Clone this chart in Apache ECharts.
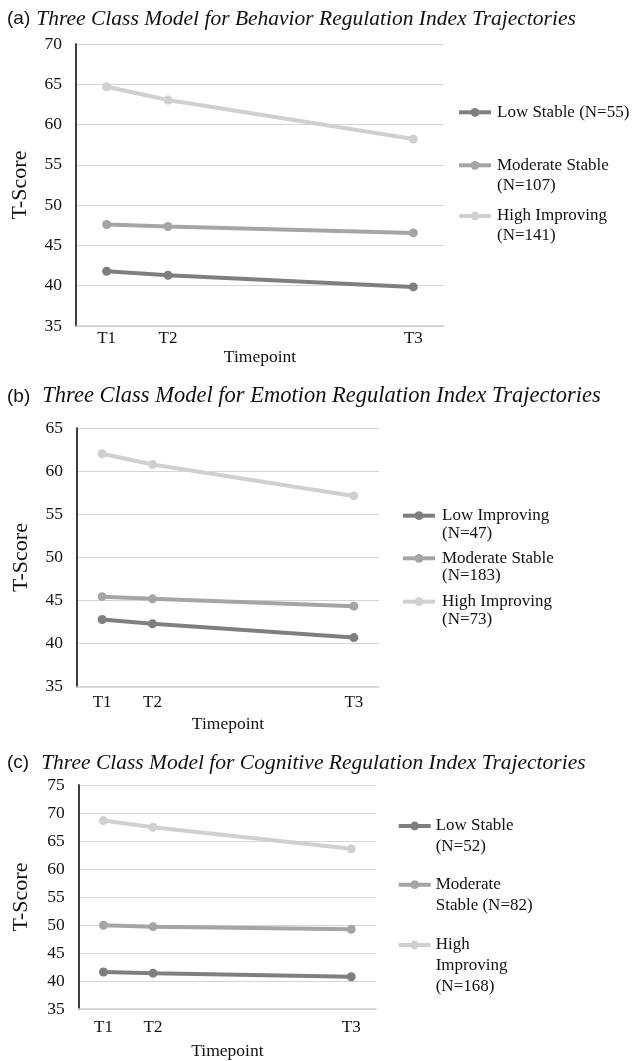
<!DOCTYPE html>
<html>
<head>
<meta charset="utf-8">
<script src="https://cdn.jsdelivr.net/npm/echarts@6/dist/echarts.min.js"></script>
<style>html,body{margin:0;padding:0;background:#fff}#c{width:634px;height:1061px}</style>
</head>
<body>
<div id="c"></div>
<script>
// Category slots (Excel-style time axis: T1, T2 ... T3)
const categories = ['T1', 'T2', '', '', '', 'T3'];

// Panel titles
const panelLetters = ['(a)', '(b)', '(c)'];
const panelTitles = [
  'Three Class Model for Behavior Regulation Index Trajectories',
  'Three Class Model for Emotion Regulation Index Trajectories',
  'Three Class Model for Cognitive Regulation Index Trajectories'
];

// Series names (legend text)
const namesA = ['Low Stable (N=55)', 'Moderate Stable\n(N=107)', 'High Improving\n(N=141)'];
const namesB = ['Low Improving\n(N=47)', 'Moderate Stable\n(N=183)', 'High Improving\n(N=73)'];
const namesC = ['Low Stable\n(N=52)', 'Moderate\nStable (N=82)', 'High\nImproving\n(N=168)'];

// Values (T1, T2, -, -, -, T3)
const behaviorLow = [41.8, 41.3, null, null, null, 39.85];
const behaviorModerate = [47.6, 47.35, null, null, null, 46.55];
const behaviorHigh = [64.7, 63.05, null, null, null, 58.2];

const emotionLow = [42.8, 42.3, null, null, null, 40.7];
const emotionModerate = [45.45, 45.2, null, null, null, 44.35];
const emotionHigh = [62.05, 60.8, null, null, null, 57.15];

const cognitiveLow = [41.6, 41.4, null, null, null, 40.75];
const cognitiveModerate = [49.95, 49.7, null, null, null, 49.25];
const cognitiveHigh = [68.65, 67.45, null, null, null, 63.6];

// Y-axis ranges
const yMins = [35, 35, 35];
const yMaxs = [70, 65, 75];

const colors = ['#7f7f7f', '#a5a5a5', '#d0d0d0'];
const serif = "'Liberation Serif', 'Times New Roman', serif";
const sans = "'Liberation Sans', Arial, sans-serif";

// layout per panel
const grids = [
  {left: 76, top: 44, width: 368, height: 282},
  {left: 77, top: 428.3, width: 302, height: 258.4},
  {left: 78.7, top: 785, width: 297.3, height: 225.7}
];
const titleTops = [8, 385, 752];
const titleSizes = [21.5, 22.5, 21.5];
const titleGaps = [6, 12, 12];
const xLabelMargins = [4, 7, 10];
const xNameGaps = [22, 29, 33];
const yNameGaps = [45, 45, 46];

// legend layout
const legendLayouts = [
  {left: 457, padL: 1, lh: 20, ys: [112.3, 165.3, 216]},
  {left: 401, padL: 2, lh: 17.5, ys: [515.7, 558.3, 601.7]},
  {left: 396.7, padL: 0, lh: 21, ys: [826, 884.7, 945]}
];

const allNames = [namesA, namesB, namesC];
const allValues = [
  [behaviorLow, behaviorModerate, behaviorHigh],
  [emotionLow, emotionModerate, emotionHigh],
  [cognitiveLow, cognitiveModerate, cognitiveHigh]
];

const option = {
  animation: false,
  backgroundColor: '#fff',
  title: [], grid: [], xAxis: [], yAxis: [], series: [], legend: []
};

for (let p = 0; p < 3; p++) {
  option.title.push({
    left: 7, top: titleTops[p], padding: 0,
    text: '{a|' + panelLetters[p] + '}{b|' + panelTitles[p] + '}',
    textStyle: {
      fontWeight: 'normal',
      rich: {
        a: {fontFamily: sans, fontSize: 19, fontWeight: 'normal', color: '#111', padding: [0, titleGaps[p], 0, 0]},
        b: {fontFamily: serif, fontStyle: 'italic', fontWeight: 'normal', fontSize: titleSizes[p], color: '#111'}
      }
    }
  });
  option.grid.push(Object.assign({containLabel: false}, grids[p]));
  option.xAxis.push({
    type: 'category', gridIndex: p, data: categories, boundaryGap: true,
    name: 'Timepoint', nameLocation: 'middle', nameGap: xNameGaps[p],
    nameTextStyle: {fontFamily: serif, fontSize: 17.5, color: '#111'},
    axisLine: {lineStyle: {color: '#d0d0d0', width: 1.5}},
    axisTick: {show: false},
    axisLabel: {fontFamily: serif, fontSize: 17, color: '#111', margin: xLabelMargins[p], interval: 0},
    splitLine: {show: false}
  });
  option.yAxis.push({
    type: 'value', gridIndex: p, min: yMins[p], max: yMaxs[p], interval: 5,
    name: 'T-Score', nameLocation: 'middle', nameGap: yNameGaps[p], nameRotate: 90,
    nameTextStyle: {fontFamily: serif, fontSize: 22, color: '#111'},
    axisLine: {show: true, lineStyle: {color: '#404040', width: 2}},
    axisTick: {show: false},
    axisLabel: {fontFamily: serif, fontSize: 17.5, color: '#111', margin: 14},
    splitLine: {lineStyle: {color: '#d4d4d4', width: 1}}
  });
  const L = legendLayouts[p];
  for (let s = 0; s < 3; s++) {
    const name = allNames[p][s];
    option.series.push({
      type: 'line', name: name, xAxisIndex: p, yAxisIndex: p,
      data: allValues[p][s], connectNulls: true,
      symbol: 'circle', symbolSize: 9,
      color: colors[s],
      lineStyle: {width: 4, color: colors[s]},
      itemStyle: {color: colors[s]},
      z: 2 + (s === 0 ? 1 : 0)
    });
    const n = name.split('\n').length;
    // prepend (n-1) blank lines so the icon (centred on the block) sits on the first line
    const pad = '\n'.repeat(n - 1);
    option.legend.push({
      data: [name], left: L.left, top: L.ys[s] - (2 * n - 1) * L.lh / 2,
      padding: 0, itemWidth: 32, itemHeight: 11, selectedMode: false,
      formatter: (nm) => pad + nm,
      lineStyle: {width: 4},
      textStyle: {fontFamily: serif, fontSize: 17, color: '#111', lineHeight: L.lh,
                  padding: [0, 0, 0, L.padL]}
    });
  }
}

const chart = echarts.init(document.getElementById('c'), null, {renderer: 'canvas'});
chart.setOption(option);
</script>
</body>
</html>
